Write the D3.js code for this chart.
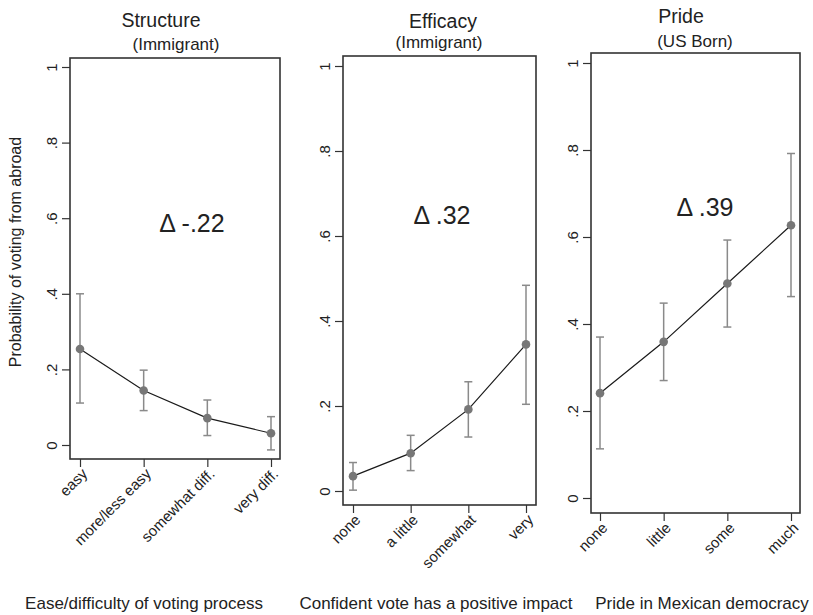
<!DOCTYPE html>
<html>
<head>
<meta charset="utf-8">
<script src="https://cdn.jsdelivr.net/npm/d3@7"></script>
<style>
  html, body { margin: 0; padding: 0; background: #fff; }
  svg { display: block; font-family: "Liberation Sans", Arial, Helvetica, sans-serif; }
</style>
</head>
<body>
<svg id="chart" width="813" height="615"></svg>
<script>
// ---------------- data ----------------
const panelTitles = ["Structure", "Efficacy", "Pride"];
const panelSubtitles = ["(Immigrant)", "(Immigrant)", "(US Born)"];
const xTitles = ["Ease/difficulty of voting process", "Confident vote has a positive impact", "Pride in Mexican democracy"];
const deltaLabels = ["\u0394 -.22", "\u0394 .32", "\u0394 .39"];
const yAxisTitle = "Probability of voting from abroad";

const structureCats = ["easy", "more/less easy", "somewhat diff.", "very diff."];
const structureMean = [0.254, 0.144, 0.071, 0.031];
const structureLo   = [0.111, 0.091, 0.025, -0.013];
const structureHi   = [0.400, 0.198, 0.119, 0.075];

const efficacyCats = ["none", "a little", "somewhat", "very"];
const efficacyMean = [0.035, 0.089, 0.192, 0.345];
const efficacyLo   = [0.002, 0.048, 0.127, 0.204];
const efficacyHi   = [0.067, 0.131, 0.257, 0.484];

const prideCats = ["none", "little", "some", "much"];
const prideMean = [0.241, 0.359, 0.493, 0.627];
const prideLo   = [0.113, 0.270, 0.393, 0.463];
const prideHi   = [0.370, 0.448, 0.593, 0.792];

const yTicks = [0, 0.2, 0.4, 0.6, 0.8, 1];
const yTickLabels = ["0", ".2", ".4", ".6", ".8", "1"];

// ---------------- layout ----------------
const panels = [
  { cats: structureCats, mean: structureMean, lo: structureLo, hi: structureHi,
    frame: { l: 70, r: 280, t: 58, b: 459 }, y0: 445, y1: 67, xr: [80, 271],
    title: [161, 27], sub: [176, 50], delta: [192, 232], xt: [144, 609] },
  { cats: efficacyCats, mean: efficacyMean, lo: efficacyLo, hi: efficacyHi,
    frame: { l: 343, r: 536, t: 56, b: 505 }, y0: 491, y1: 66, xr: [353, 526],
    title: [443, 28], sub: [439, 48], delta: [442, 224], xt: [436, 609] },
  { cats: prideCats, mean: prideMean, lo: prideLo, hi: prideHi,
    frame: { l: 591, r: 800, t: 53, b: 513 }, y0: 498, y1: 63, xr: [600, 791],
    title: [681, 23], sub: [695, 47], delta: [705, 216], xt: [702, 609] }
];

const svg = d3.select("#chart");
svg.append("rect").attr("width", 813).attr("height", 615).attr("fill", "#fff");

const ciColor = "#8a8a8a";
const dotColor = "#777777";
const frameColor = "#333333";
const textColor = "#222222";

panels.forEach((p, i) => {
  const g = svg.append("g");
  const x = d3.scalePoint().domain(p.cats).range(p.xr);
  const y = d3.scaleLinear().domain([0, 1]).range([p.y0, p.y1]);

  // frame
  g.append("rect")
    .attr("x", p.frame.l).attr("y", p.frame.t)
    .attr("width", p.frame.r - p.frame.l).attr("height", p.frame.b - p.frame.t)
    .attr("fill", "none").attr("stroke", frameColor).attr("stroke-width", 1.6);

  // y axis
  const yAxis = d3.axisLeft(y).tickValues(yTicks)
    .tickFormat((d, k) => yTickLabels[k]).tickSize(8).tickPadding(5);
  const ya = g.append("g").attr("transform", `translate(${p.frame.l},0)`).call(yAxis);
  ya.select(".domain").remove();
  ya.selectAll(".tick line").attr("stroke", frameColor).attr("stroke-width", 1.2);
  ya.selectAll(".tick text")
    .attr("x", null).attr("dy", null)
    .attr("transform", "translate(-13,0) rotate(-90)")
    .attr("text-anchor", "middle")
    .attr("font-size", 15).attr("fill", textColor);

  // x axis
  const xAxis = d3.axisBottom(x).tickSize(8).tickPadding(4);
  const xa = g.append("g").attr("transform", `translate(0,${p.frame.b})`).call(xAxis);
  xa.select(".domain").remove();
  xa.selectAll(".tick line").attr("stroke", frameColor).attr("stroke-width", 1.2);
  xa.selectAll(".tick text")
    .attr("y", null).attr("dy", null)
    .attr("transform", "translate(5,13) rotate(-45)")
    .attr("text-anchor", "end")
    .attr("dominant-baseline", "middle")
    .attr("font-size", 15).attr("fill", textColor);

  const rows = p.cats.map((c, k) => ({ c, m: p.mean[k], lo: p.lo[k], hi: p.hi[k] }));

  // CIs
  const ci = g.append("g").attr("stroke", ciColor).attr("stroke-width", 1.5).attr("fill", "none");
  ci.selectAll("line.v").data(rows).join("line").attr("class", "v")
    .attr("x1", d => x(d.c)).attr("x2", d => x(d.c))
    .attr("y1", d => y(d.lo)).attr("y2", d => y(d.hi));
  ci.selectAll("line.ct").data(rows).join("line").attr("class", "ct")
    .attr("x1", d => x(d.c) - 4).attr("x2", d => x(d.c) + 4)
    .attr("y1", d => y(d.hi)).attr("y2", d => y(d.hi));
  ci.selectAll("line.cb").data(rows).join("line").attr("class", "cb")
    .attr("x1", d => x(d.c) - 4).attr("x2", d => x(d.c) + 4)
    .attr("y1", d => y(d.lo)).attr("y2", d => y(d.lo));

  // connecting line
  const line = d3.line().x(d => x(d.c)).y(d => y(d.m));
  g.append("path").datum(rows).attr("d", line)
    .attr("fill", "none").attr("stroke", "#1a1a1a").attr("stroke-width", 1.2);

  // markers
  g.selectAll("circle.pt").data(rows).join("circle").attr("class", "pt")
    .attr("cx", d => x(d.c)).attr("cy", d => y(d.m)).attr("r", 4.3)
    .attr("fill", dotColor);

  // titles
  g.append("text").attr("x", p.title[0]).attr("y", p.title[1])
    .attr("text-anchor", "middle").attr("font-size", 19.5).attr("fill", textColor)
    .text(panelTitles[i]);
  g.append("text").attr("x", p.sub[0]).attr("y", p.sub[1])
    .attr("text-anchor", "middle").attr("font-size", 17).attr("fill", textColor)
    .text(panelSubtitles[i]);

  // delta annotation
  g.append("text").attr("x", p.delta[0]).attr("y", p.delta[1])
    .attr("text-anchor", "middle").attr("font-size", 25).attr("fill", textColor)
    .text(deltaLabels[i]);

  // x title
  g.append("text").attr("x", p.xt[0]).attr("y", p.xt[1])
    .attr("text-anchor", "middle").attr("font-size", 17).attr("fill", textColor)
    .text(xTitles[i]);
});

// y-axis title
svg.append("text")
  .attr("transform", "translate(21,252) rotate(-90)")
  .attr("text-anchor", "middle").attr("font-size", 16).attr("fill", textColor)
  .text(yAxisTitle);
</script>
</body>
</html>
